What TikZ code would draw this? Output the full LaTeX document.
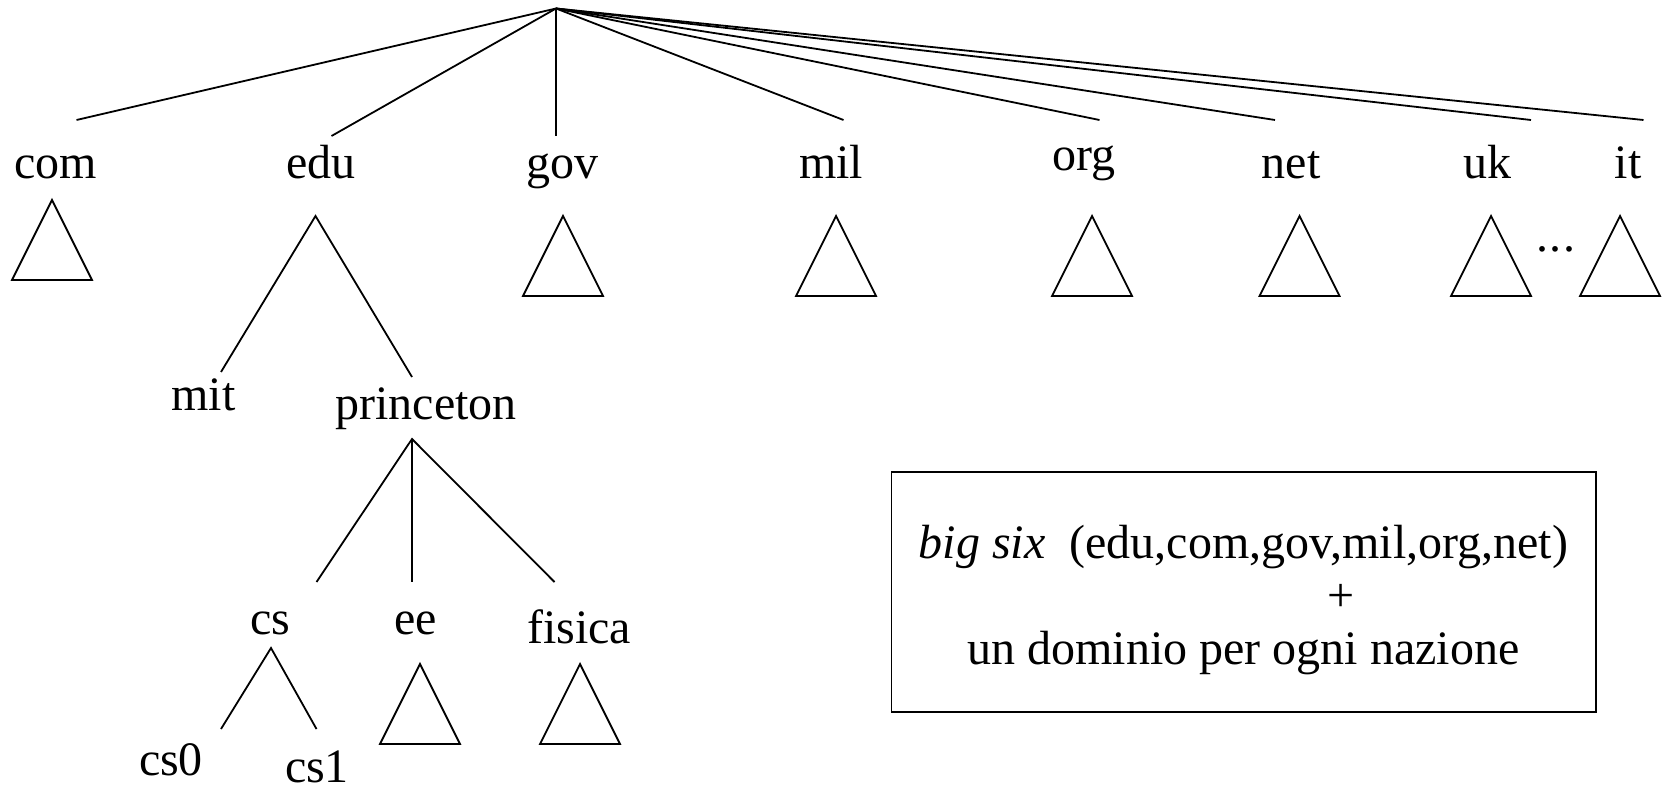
\documentclass[tikz,border=0pt]{standalone}
\usepackage{fontspec}
\setmainfont{Liberation Serif}
\begin{document}
\begin{tikzpicture}[x=1pt,y=-1pt,line width=1.8pt,
  lbl/.style={anchor=base,inner sep=0pt,font=\fontsize{48}{56}\selectfont},
  branch/.style={line cap=butt},
  subtree/.pic={\draw[line join=miter] (0,0) -- (-40,80) -- (40,80) -- cycle;}]
\useasboundingbox (0,0) rectangle (1666,791);

% root of the name space
\coordinate (root) at (556,8.5);

% top-level domains
\node[lbl] (com) at (56,178.5) {com};
\node[lbl] (edu) at (321,178.5) {edu};
\node[lbl] (gov) at (562.5,178.5) {gov};
\node[lbl] (mil) at (831,178.5) {mil};
\node[lbl] (org) at (1084,171) {org};
\node[lbl] (net) at (1291,178.5) {net};
\node[lbl] (uk)  at (1487.5,178.5) {uk};
\node[lbl] (it)  at (1628,178.5) {it};

% ends of the edges from the root
\coordinate (comT) at (76.5,120);
\coordinate (eduT) at (331.5,136);
\coordinate (govT) at (556,136);
\coordinate (milT) at (843.5,120);
\coordinate (orgT) at (1099.5,120);
\coordinate (netT) at (1275,120);
\coordinate (ukT)  at (1531,120);
\coordinate (itT)  at (1643.5,120);

\foreach \d in {com,edu,gov,mil,org,net,uk,it}
  \draw[branch] (root) -- (\d T);

% collapsed subtrees
\pic at (52,200) {subtree};
\pic at (563,216) {subtree};
\pic at (836,216) {subtree};
\pic at (1092,216) {subtree};
\pic at (1299.5,216) {subtree};
\pic at (1491,216) {subtree};
\pic at (1620,216) {subtree};
\node[lbl] (dots) at (1556,252) {.\kern2pt.\kern2pt.};

% second level under edu
\coordinate (eduB) at (315.5,216);
\node[lbl] (mit) at (203.5,411) {mit};
\node[lbl] (princeton) at (426,420) {princeton};
\coordinate (mitT) at (221,372);
\coordinate (princetonT) at (412,377);
\draw[branch] (mitT) -- (eduB) -- (princetonT);

% third level under princeton
\coordinate (prB) at (412,439);
\node[lbl] (cs) at (270.5,634) {cs};
\node[lbl] (ee) at (415.5,634) {ee};
\node[lbl] (fisica) at (579,643) {fisica};
\coordinate (csT) at (316.5,582);
\coordinate (eeT) at (412,582);
\coordinate (fisicaT) at (554.5,582);
\draw[branch] (csT) -- (prB) -- (fisicaT);
\draw[branch] (prB) -- (eeT);
\pic at (420,664) {subtree};
\pic at (580,664) {subtree};

% fourth level under cs
\coordinate (csB) at (271,648);
\node[lbl] (cs0) at (171,775.5) {cs0};
\node[lbl] (cs1) at (317,782) {cs1};
\coordinate (cs0T) at (221,729);
\coordinate (cs1T) at (316.5,729);
\draw[branch] (cs0T) -- (csB) -- (cs1T);

% note box
\draw (891.5,472) rectangle (1596,712);
\node[lbl] (bigsix) at (1243.5,558) {\textit{big six}\ \ (edu,com,gov,mil,org,net)};
\node[lbl] (plus) at (1341,611) {+};
\node[lbl] (nazione) at (1243.5,664) {un dominio per ogni nazione};
\end{tikzpicture}
\end{document}
